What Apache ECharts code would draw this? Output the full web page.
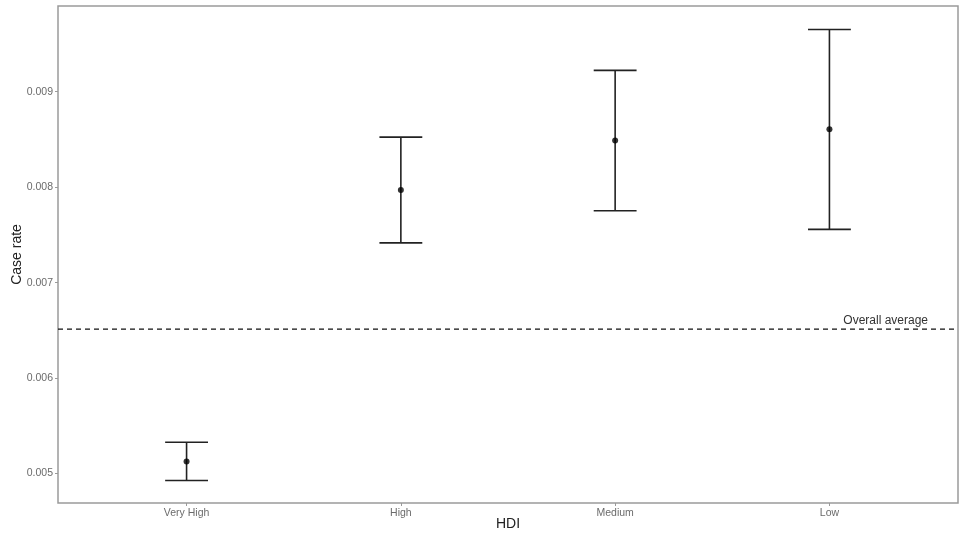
<!DOCTYPE html>
<html>
<head>
<meta charset="utf-8">
<script src="https://cdn.jsdelivr.net/npm/echarts@6/dist/echarts.min.js"></script>
<style>html,body{margin:0;padding:0;background:#fff}#c{width:960px;height:538px}</style>
</head>
<body>
<div id="c"></div>
<script>
const categories = ['Very High', 'High', 'Medium', 'Low'];
const caseRate = [0.005126, 0.007970, 0.008490, 0.008606];
const lowerCI = [0.004927, 0.007417, 0.007753, 0.007558];
const upperCI = [0.005328, 0.008525, 0.009224, 0.009652];
const overallAverage = 0.006513;
const averageLabel = 'Overall average';
const yTicks = [0.005, 0.006, 0.007, 0.008, 0.009];
const xTicks = [0, 1, 2, 3];

const chart = echarts.init(document.getElementById('c'));
const errData = categories.map((c, i) => [i, lowerCI[i], upperCI[i]]);
const ptData = categories.map((c, i) => [i, caseRate[i]]);
const axisGrey = '#9a9a9a';
const labelGrey = '#6b6b6b';

chart.setOption({
  animation: false,
  grid: { left: 58, right: 2, top: 6, bottom: 35, show: true, borderColor: axisGrey, borderWidth: 1.5, backgroundColor: '#fff', outerBoundsMode: 'none', containLabel: false },
  xAxis: {
    type: 'value', min: -0.6, max: 3.6,
    name: 'HDI', nameLocation: 'middle', nameGap: 14, nameMoveOverlap: false,
    nameTextStyle: { fontFamily: 'Liberation Sans', fontSize: 14, color: '#222' },
    axisLine: { show: false, onZero: false },
    splitLine: { show: false },
    axisTick: { show: true, customValues: xTicks, length: 3, lineStyle: { color: axisGrey } },
    axisLabel: { customValues: xTicks, formatter: v => categories[Math.round(v)], fontFamily: 'Liberation Sans', fontSize: 10.5, color: labelGrey, margin: 5 }
  },
  yAxis: {
    type: 'value', min: 0.004692, max: 0.009898,
    name: 'Case rate', nameLocation: 'middle', nameGap: 34, nameMoveOverlap: false,
    nameTextStyle: { fontFamily: 'Liberation Sans', fontSize: 14, color: '#222' },
    axisLine: { show: false, onZero: false },
    splitLine: { show: false },
    axisTick: { show: true, customValues: yTicks, length: 3, lineStyle: { color: axisGrey } },
    axisLabel: { customValues: yTicks, formatter: v => v.toFixed(3), fontFamily: 'Liberation Sans', fontSize: 10.5, color: labelGrey, margin: 5 }
  },
  series: [
    {
      type: 'custom',
      data: [[0, overallAverage]],
      renderItem: function (params, api) {
        const cs = params.coordSys;
        const y = api.coord([0, api.value(1)])[1];
        return {
          type: 'group',
          children: [
            { type: 'line', shape: { x1: cs.x, y1: y, x2: cs.x + cs.width, y2: y },
              style: { stroke: '#111', lineWidth: 1.4, lineDash: [5, 4], fill: null } },
            { type: 'text', x: cs.x + cs.width - 30, y: y - 2,
              style: { text: averageLabel, textAlign: 'right', textVerticalAlign: 'bottom',
                       font: '12px "Liberation Sans"', fill: '#333' } }
          ]
        };
      },
      z: 1
    },
    {
      type: 'custom',
      data: errData,
      renderItem: function (params, api) {
        const x = api.value(0);
        const lo = api.coord([x, api.value(1)]);
        const hi = api.coord([x, api.value(2)]);
        const hw = api.size([0.1, 0])[0];
        const style = { stroke: '#222', lineWidth: 1.6, fill: null };
        return {
          type: 'group',
          children: [
            { type: 'line', shape: { x1: lo[0], y1: lo[1], x2: hi[0], y2: hi[1] }, style },
            { type: 'line', shape: { x1: lo[0] - hw, y1: lo[1], x2: lo[0] + hw, y2: lo[1] }, style },
            { type: 'line', shape: { x1: hi[0] - hw, y1: hi[1], x2: hi[0] + hw, y2: hi[1] }, style }
          ]
        };
      },
      z: 2
    },
    {
      type: 'scatter',
      data: ptData,
      symbolSize: 6,
      itemStyle: { color: '#000' },
      z: 3
    }
  ]
});
</script>
</body>
</html>
